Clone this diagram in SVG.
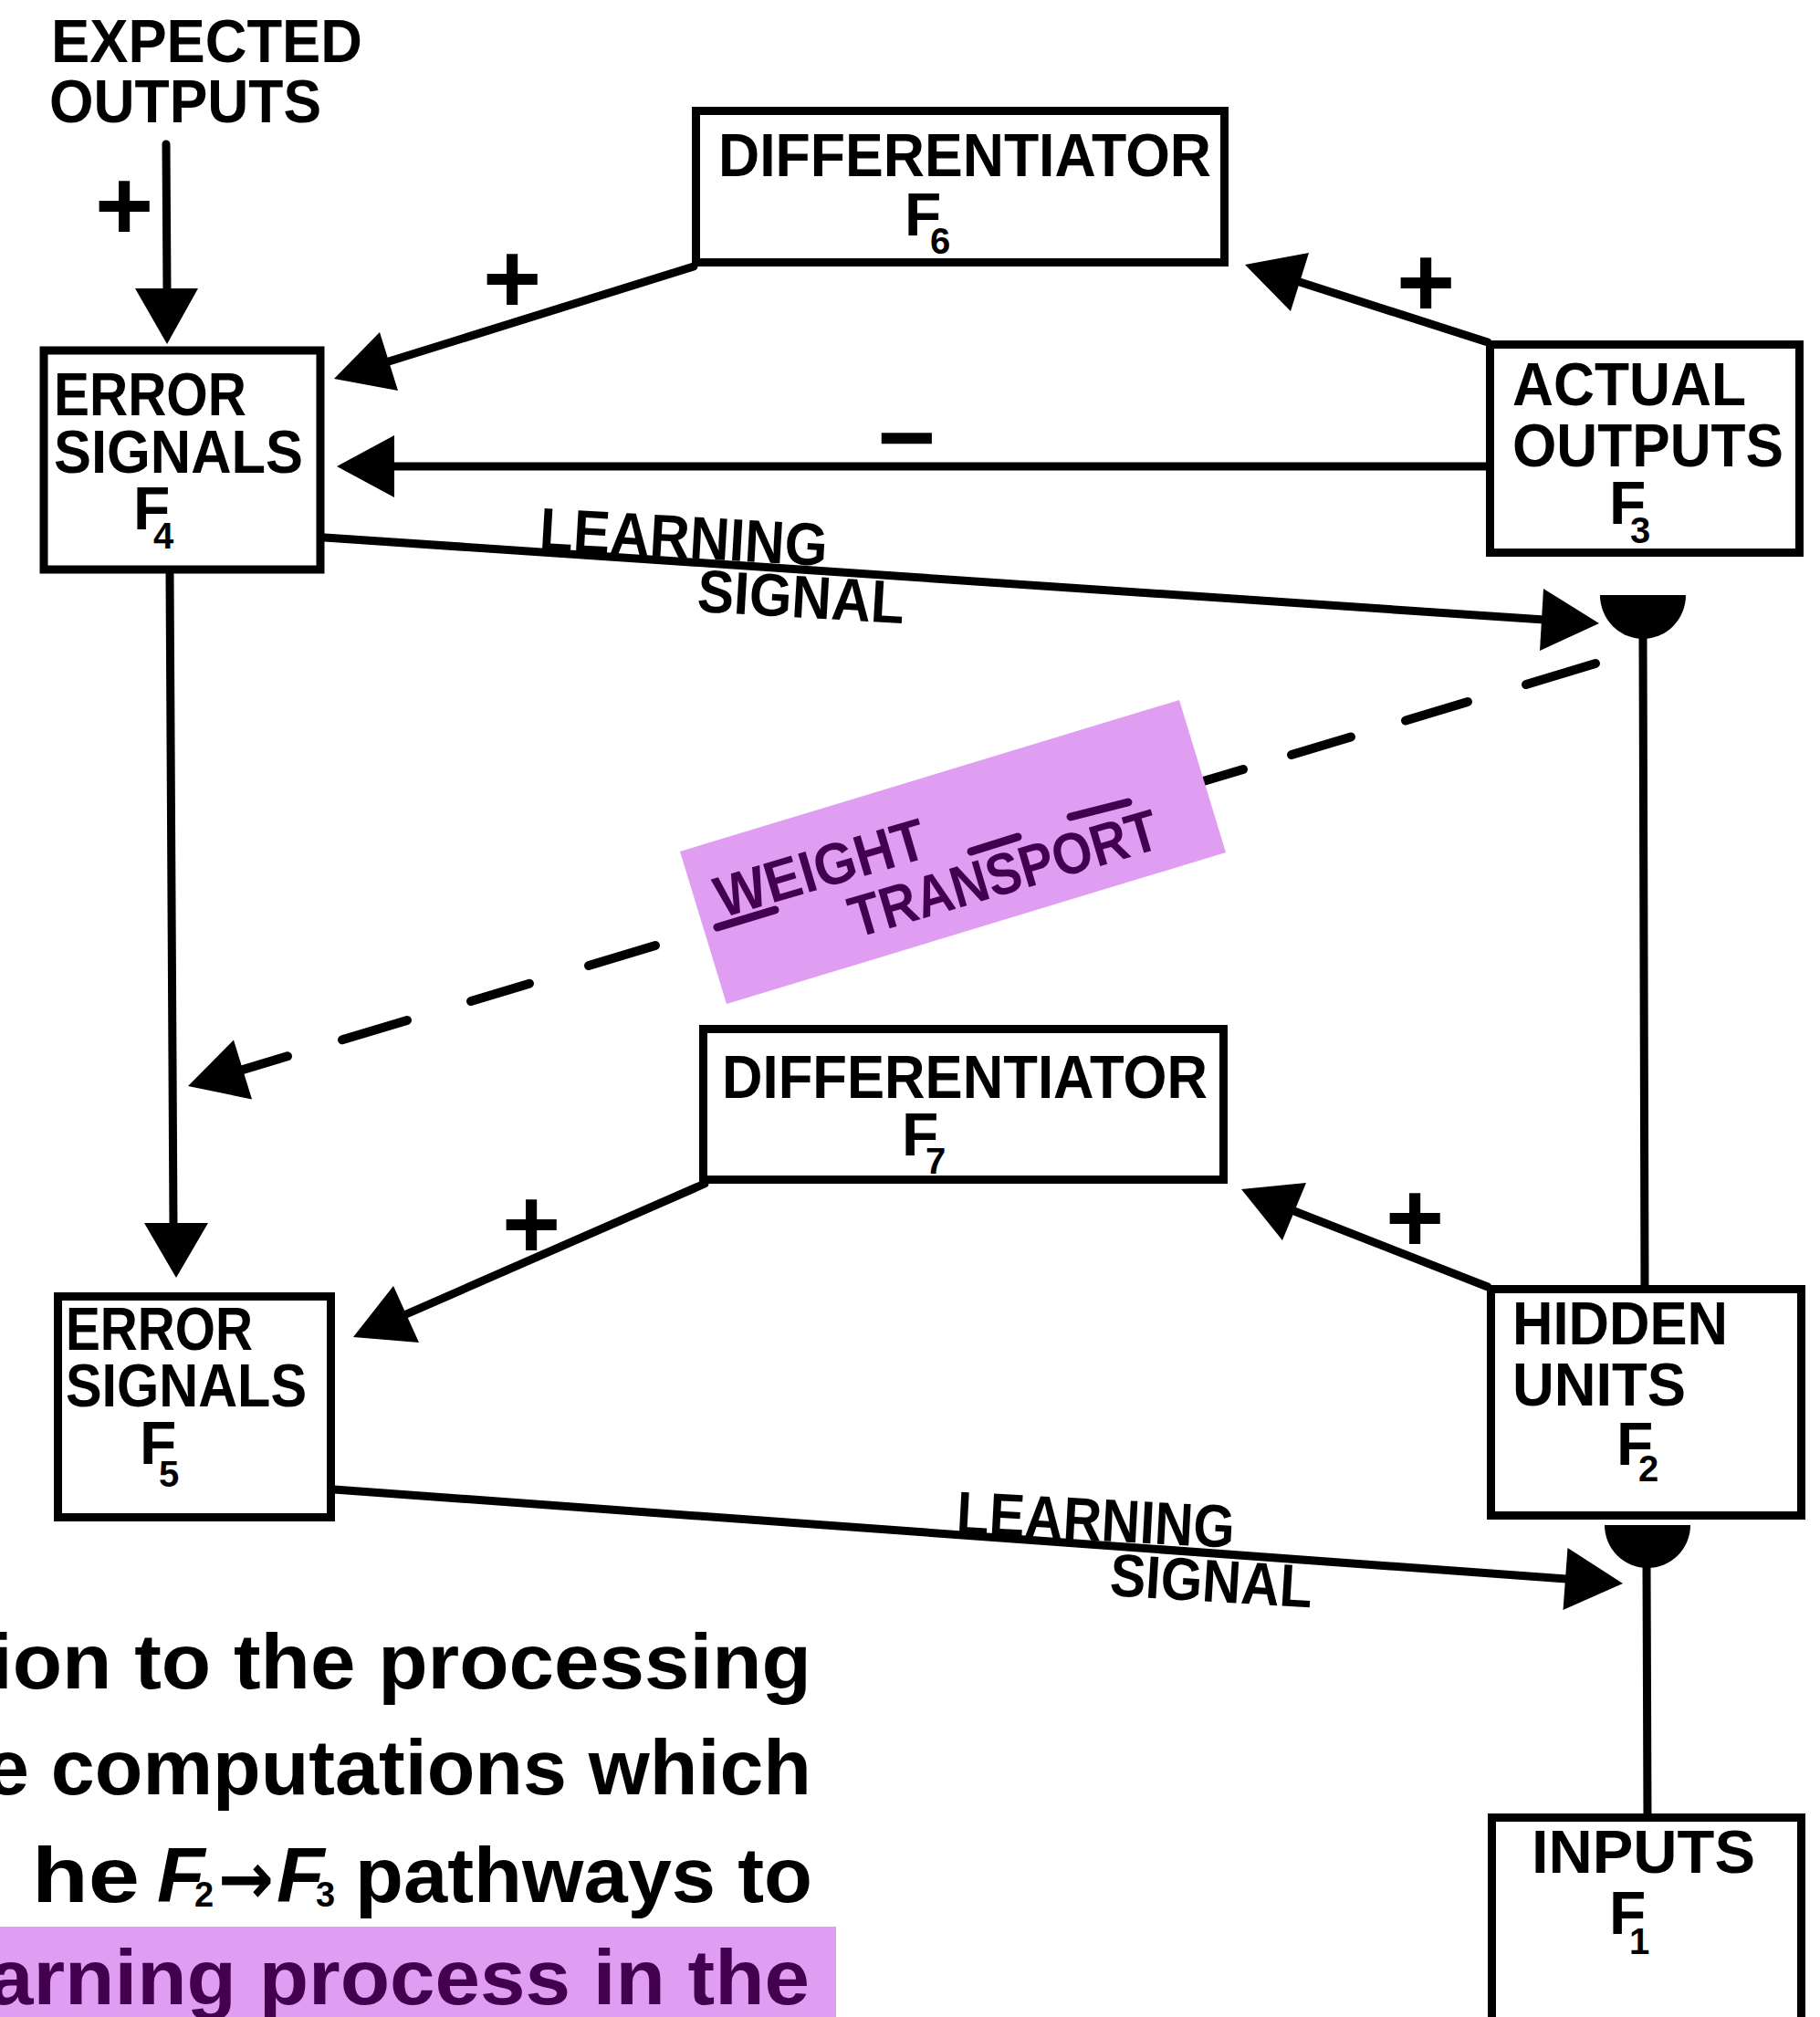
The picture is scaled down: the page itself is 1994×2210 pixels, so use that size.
<svg xmlns="http://www.w3.org/2000/svg" width="1994" height="2210" viewBox="0 0 1994 2210">
<style>
.box{fill:#fff;stroke:#000;stroke-width:9}
.ln{stroke:#000;stroke-width:9;fill:none;stroke-linecap:round}
.dash{stroke:#000;stroke-width:10;stroke-linecap:round}
.ah{fill:#000}
.t{font-family:"Liberation Sans",Arial,sans-serif;font-weight:bold;font-size:66px;fill:#000}
.sub{font-size:40px}
.sign{font-family:"Liberation Sans",Arial,sans-serif;font-weight:bold;font-size:110px;text-anchor:middle;fill:#000}
.wt{font-family:"Liberation Sans",Arial,sans-serif;font-weight:bold;font-size:64px;fill:#44004f}
.bar{stroke:#44004f;stroke-width:9;stroke-linecap:round}
.para{font-family:"Liberation Sans",Arial,sans-serif;font-weight:bold;font-size:86px;fill:#000}
.psub{font-family:"Liberation Sans",Arial,sans-serif;font-weight:bold;font-size:38px;fill:#000}
.parr{font-family:"DejaVu Sans","Liberation Sans",sans-serif;font-weight:bold;font-size:80px;fill:#000}
</style>
<rect width="1994" height="2210" fill="#fff"/>

<g id="connectors">
  <line class="ln" x1="182" y1="158" x2="183" y2="320"/>
  <polygon class="ah" points="148,316 217,316 183,377"/>
  <line class="ln" x1="760" y1="292" x2="426" y2="396"/>
  <polygon class="ah" points="366,415 436,428 416,364"/>
  <line class="ln" x1="1630" y1="375" x2="1424" y2="309"/>
  <polygon class="ah" points="1364,290 1434,277 1414,341"/>
  <line class="ln" x1="1630" y1="511" x2="430" y2="511"/>
  <polygon class="ah" points="369,511 432,477 432,545"/>
  <line class="ln" x1="356" y1="589" x2="1692" y2="679"/>
  <polygon class="ah" points="1752,683 1687,713 1691,645"/>
  <path class="ah" d="M1753,652 A47,48 0 0 0 1847,652 Z"/>
  <line class="ln" x1="1800" y1="698" x2="1802" y2="1410"/>
  <g id="weight-transport-dashes">
    <line class="dash" x1="1748" y1="727" x2="1672" y2="750"/>
    <line class="dash" x1="1608" y1="769" x2="1540" y2="789.5"/>
    <line class="dash" x1="1480" y1="807.5" x2="1415" y2="827"/>
    <line class="dash" x1="1362" y1="843" x2="1305" y2="860"/>
    <line class="dash" x1="718" y1="1036" x2="645" y2="1058"/>
    <line class="dash" x1="580" y1="1077.7" x2="516" y2="1097"/>
    <line class="dash" x1="446" y1="1118" x2="375" y2="1139.3"/>
    <line class="dash" x1="315" y1="1157.3" x2="262" y2="1173.3"/>
    <polygon class="ah" points="206,1190 276,1204.5 256,1139.5"/>
  </g>
  <line class="ln" x1="186" y1="629" x2="190" y2="1345"/>
  <polygon class="ah" points="158,1340 228,1340 193,1400"/>
  <line class="ln" x1="1630" y1="1410" x2="1418" y2="1327"/>
  <polygon class="ah" points="1360,1303 1431,1296 1405,1359"/>
  <line class="ln" x1="772" y1="1297" x2="445" y2="1440"/>
  <polygon class="ah" points="387,1465 459,1471 431,1409"/>
  <line class="ln" x1="366" y1="1632" x2="1716" y2="1730"/>
  <polygon class="ah" points="1778,1735 1712.5,1764 1717.5,1696"/>
  <path class="ah" d="M1758,1671 A47,47 0 0 0 1852,1671 Z"/>
  <line class="ln" x1="1804" y1="1716" x2="1805" y2="1992"/>
</g>

<g id="signs">
  <text class="sign" x="136" y="263">+</text>
  <text class="sign" x="561" y="343">+</text>
  <text class="sign" x="1562" y="347">+</text>
  <text class="sign" x="993" y="517">−</text>
  <text class="sign" x="1550" y="1372">+</text>
  <text class="sign" x="582" y="1379">+</text>
</g>

<g id="expected-outputs">
  <text class="t" x="56" y="68" textLength="341" lengthAdjust="spacingAndGlyphs">EXPECTED</text>
  <text class="t" x="54" y="134" textLength="298" lengthAdjust="spacingAndGlyphs">OUTPUTS</text>
</g>

<g id="differentiator-f6">
  <rect class="box" x="762.5" y="121.5" width="579" height="166"/>
  <text class="t" x="787" y="193" textLength="540" lengthAdjust="spacingAndGlyphs">DIFFERENTIATOR</text>
  <text class="t" x="991" y="258">F</text><text class="t sub" x="1019" y="278">6</text>
</g>

<g id="error-signals-f4">
  <rect class="box" x="48" y="384" width="303" height="240"/>
  <text class="t" x="59" y="455" textLength="211" lengthAdjust="spacingAndGlyphs">ERROR</text>
  <text class="t" x="59" y="518" textLength="273" lengthAdjust="spacingAndGlyphs">SIGNALS</text>
  <text class="t" x="146" y="580">F</text><text class="t sub" x="168" y="601">4</text>
</g>

<g id="actual-outputs-f3">
  <rect class="box" x="1632.5" y="377.5" width="339" height="228"/>
  <text class="t" x="1657" y="444" textLength="256" lengthAdjust="spacingAndGlyphs">ACTUAL</text>
  <text class="t" x="1657" y="511" textLength="297" lengthAdjust="spacingAndGlyphs">OUTPUTS</text>
  <text class="t" x="1763" y="574">F</text><text class="t sub" x="1786" y="595">3</text>
</g>

<g id="weight-transport">
  <polygon points="745,933 1292,767 1343,934 796,1100" fill="#df9ef2"/>
  <text class="wt" x="791" y="1006" transform="rotate(-16.5 791 1006)" textLength="238" lengthAdjust="spacingAndGlyphs">WEIGHT</text>
  <text class="wt" x="938" y="1028" transform="rotate(-16.5 938 1028)" textLength="350" lengthAdjust="spacingAndGlyphs">TRANSPORT</text>
  <line class="bar" x1="786" y1="1016" x2="849" y2="997"/>
  <line class="bar" x1="1064" y1="933" x2="1115" y2="917"/>
  <line class="bar" x1="1173" y1="895" x2="1236" y2="879"/>
</g>

<g id="learning-signal-upper">
  <text class="t" x="590" y="602" transform="rotate(3.3 590 602)" textLength="316" lengthAdjust="spacingAndGlyphs">LEARNING</text>
  <text class="t" x="763" y="670" transform="rotate(3.3 763 670)" textLength="227" lengthAdjust="spacingAndGlyphs">SIGNAL</text>
</g>

<g id="differentiator-f7">
  <rect class="box" x="770.5" y="1127.5" width="570" height="165"/>
  <text class="t" x="988" y="1266">F</text><text class="t sub" x="1014" y="1286">7</text>
  <text class="t" x="791" y="1203" textLength="532" lengthAdjust="spacingAndGlyphs">DIFFERENTIATOR</text>
</g>

<g id="hidden-units-f2">
  <rect class="box" x="1633.5" y="1412.5" width="340" height="248"/>
  <text class="t" x="1657" y="1473" textLength="236" lengthAdjust="spacingAndGlyphs">HIDDEN</text>
  <text class="t" x="1657" y="1540" textLength="190" lengthAdjust="spacingAndGlyphs">UNITS</text>
  <text class="t" x="1771" y="1605">F</text><text class="t sub" x="1795" y="1623">2</text>
</g>

<g id="error-signals-f5">
  <rect class="box" x="63.5" y="1420.5" width="299" height="242"/>
  <text class="t" x="72" y="1479" textLength="205" lengthAdjust="spacingAndGlyphs">ERROR</text>
  <text class="t" x="72" y="1541" textLength="264" lengthAdjust="spacingAndGlyphs">SIGNALS</text>
  <text class="t" x="153" y="1604">F</text><text class="t sub" x="174" y="1629">5</text>
</g>

<g id="learning-signal-lower">
  <text class="t" x="1047" y="1680" transform="rotate(3.0 1047 1680)" textLength="305" lengthAdjust="spacingAndGlyphs">LEARNING</text>
  <text class="t" x="1215" y="1748" transform="rotate(3.5 1215 1748)" textLength="222" lengthAdjust="spacingAndGlyphs">SIGNAL</text>
</g>

<g id="inputs-f1">
  <rect class="box" x="1634.5" y="1991.5" width="339" height="300"/>
  <text class="t" x="1678" y="2052" textLength="245" lengthAdjust="spacingAndGlyphs">INPUTS</text>
  <text class="t" x="1763" y="2119">F</text><text class="t sub" x="1785" y="2141">1</text>
</g>

<g id="paragraph">
  <text class="para" x="889" y="1850" text-anchor="end" textLength="900" lengthAdjust="spacingAndGlyphs">ion to the processing</text>
  <text class="para" x="889" y="1966" text-anchor="end" textLength="905" lengthAdjust="spacingAndGlyphs">e computations which</text>
  <text class="para" x="153" y="2084" text-anchor="end" textLength="118" lengthAdjust="spacingAndGlyphs">he</text>
  <text class="para" x="172" y="2084" style="font-style:italic">F</text>
  <text class="psub" x="213" y="2089">2</text>
  <text class="parr" x="239" y="2086" textLength="61" lengthAdjust="spacingAndGlyphs">→</text>
  <text class="para" x="303" y="2084" style="font-style:italic">F</text>
  <text class="psub" x="346" y="2089">3</text>
  <text class="para" x="389" y="2084" textLength="501" lengthAdjust="spacingAndGlyphs">pathways to</text>
  <rect x="0" y="2111" width="916" height="99" fill="#df9ef2"/>
  <text class="para" x="887" y="2196" text-anchor="end" textLength="900" lengthAdjust="spacingAndGlyphs" style="fill:#44004f">arning process in the</text>
</g>
</svg>
